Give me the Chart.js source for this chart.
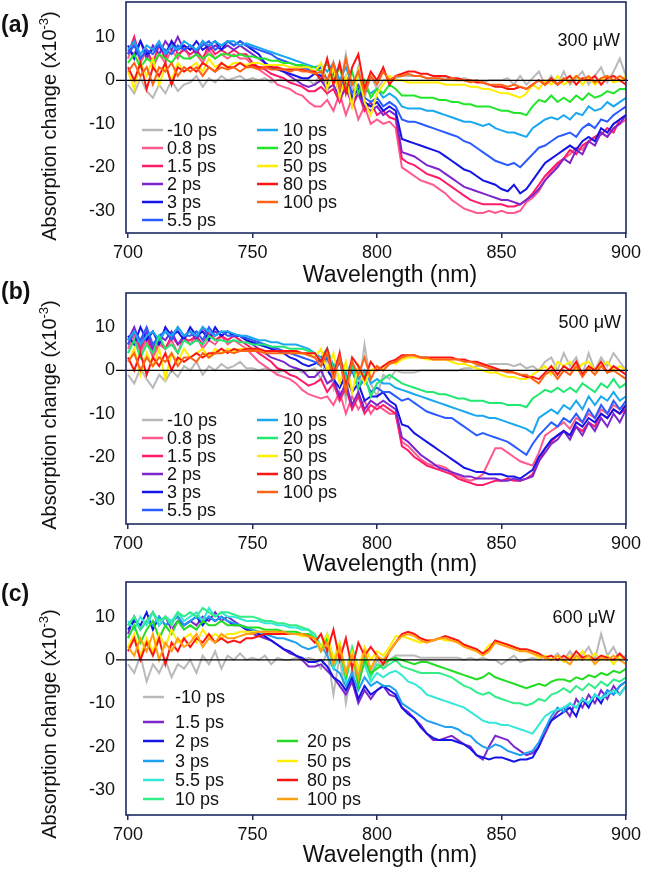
<!DOCTYPE html>
<html><head><meta charset="utf-8">
<script src="https://cdn.jsdelivr.net/npm/chart.js@4.4.1/dist/chart.umd.min.js"></script>
<style>
html,body{margin:0;padding:0;background:#fff;}
#wrap{position:relative;width:650px;height:875px;overflow:hidden;}
canvas{position:absolute;left:0;}
</style></head><body>
<div id="wrap">
<canvas id="ca" width="650" height="295" style="top:0px"></canvas>
<canvas id="cb" width="650" height="300" style="top:278px"></canvas>
<canvas id="cc" width="650" height="305" style="top:570px"></canvas>
</div>
<script>
// ---------- DATA ----------
const wavelengths = [700,702.5,705,707.5,710,712.5,715,717.5,720,722.5,
725,727.5,730,732.5,735,737.5,740,742.5,745,747.5,
750,752.5,755,757.5,760,762.5,765,767.5,770,772.5,
775,777.5,780,782.5,785,787.5,790,792.5,795,797.5,
800,802.5,805,807.5,810,812.5,815,817.5,820,822.5,
825,827.5,830,832.5,835,837.5,840,842.5,845,847.5,
850,852.5,855,857.5,860,862.5,865,867.5,870,872.5,
875,877.5,880,882.5,885,887.5,890,892.5,895,897.5,900];
const xTickValues = [700,750,800,850,900];
const yTickValues = [-30,-20,-10,0,10];

// Panel (a) 300 uW
const labelsAB = ["-10 ps","0.8 ps","1.5 ps","2 ps","3 ps","5.5 ps","10 ps","20 ps","50 ps","80 ps","100 ps"];
const a_m10 = [-1,-3,0.5,-2.5,-4,-1,-3,0,-2.5,-1,
-0.5,1,-1.5,0.5,-0.5,1,0,0.5,1,0,
0.5,0,0.5,-0.5,0,0.5,-0.5,0,0.5,0,
-1,2,-3,4,-2,6,-3,3,-4,1,
-2,0,0.5,0.5,1,1,1,1,0.5,0.5,
0.5,0.5,0,0,0.5,0,0,-0.5,0,0,
0,0.5,-1,1,-1,0.5,2,-1,1,-1,
2,-1,0.5,2,-1,1,3,-0.5,2,5,1];
const a_08 = [5,9,4,7,3,6,4,7,5,8,
5,6,4,7,5,6,5,6,5,5,
3.5,2.5,1.5,0.5,-1,-1.5,-2,-3,-3.5,-5,
-6,-6,-4.5,-7,-3,-8,-4,-9,-6,-10,
-9,-10,-9.5,-11,-20,-21,-22,-23,-23.5,-24,
-25,-26,-27.5,-28.5,-29.5,-30,-30.5,-30.5,-30,-30.5,
-30,-30.5,-30.5,-30,-28,-27,-25.5,-23,-21,-19.5,
-18,-17,-15.5,-16,-14,-13,-12,-13,-11,-10,-9];
const a_15 = [6,10,5,7,4,8,5,9,6,7,
6,7,5,8,6,7,6,7,6,6,
4,3,2.5,1.5,1,0.5,-0.5,-1,-1.5,-2.5,
-2.5,-1.5,-3,-2,-5,-1,-6,-3,-7,-5,
-8,-7,-8.5,-9,-18,-19,-19.5,-20.5,-21.5,-22,
-22.5,-23.5,-24.5,-25.5,-26.5,-27.5,-28,-28.5,-28.5,-28.5,
-28.5,-29,-29,-28.5,-27.5,-26,-24,-22,-20.5,-19,
-18,-16,-17,-15,-14,-13,-12.5,-11,-12,-9,-8];
const a_2 = [7,6,9,5,8,6,9,7,10,7,
8,6,9,7,8,7,8,7,8,7,
6,5,4,3,2.5,2,1,0,-1,-1.5,
-1,0,-2,-1,-4,-2,-5,-3,-6,-7,
-6,-8,-7,-8,-16.5,-17,-17.5,-18.5,-19.5,-20,
-20.5,-21.5,-22.5,-23.5,-24.5,-25,-25.5,-26,-26.5,-27,
-27.5,-27.5,-28,-28.5,-27.5,-26.5,-25,-23,-21.5,-20,
-18,-19,-16,-17,-14,-15,-12,-13,-11,-10,-8];
const a_3 = [8,5,9,6,7,8,6,9,7,8,
7,9,7,8,9,7,9,8,9,8,
7,6,4,3,2.5,2,1.5,1,0.5,0.5,
1.5,1,-1,2,-3,0,-4,-2,-5,-6,
-5,-7,-6,-7,-13.5,-14,-14.5,-15,-15.5,-16,
-16.5,-17.5,-18.5,-19.5,-20.5,-21,-22,-23,-23.5,-24,
-25,-25.5,-24,-26,-25,-23,-21,-19,-18,-17,
-16,-15,-16,-14,-13,-14,-11,-12,-10,-9,-8];
const a_55 = [6,8,5,7,6,8,7,6,8,7,
8,7,8,9,7,8,9,8,9,8,
7.5,7,6.5,6,5,4.5,4,3.5,3,2.5,
2,3,0,2,-2,1,-3,-1,-4,-5,
-4,-6,-5,-6,-9,-9.5,-9.5,-10,-10.5,-11,
-11.5,-12,-12.5,-13,-14,-14.5,-15.5,-16.5,-17.5,-18.5,
-19,-19.5,-19,-20,-18.5,-17,-15.5,-15,-14,-13,
-12.5,-12,-13,-11,-10,-11,-9,-9.5,-8,-7,-6];
const a_10 = [7,9,6,8,7,9,6,8,7,9,
8,7,9,8,9,8,9,9,8,8.5,
8,7.5,7,6.5,6,5.5,5,4.5,4,3.5,
3,3.5,2,4,0,3,-1,1,-2,-3,
-2,-4,-3,-4,-6,-6.5,-6.5,-6.5,-7,-7,
-7.5,-8,-8.5,-9,-9.5,-9.5,-10,-10.5,-10,-11,
-11.5,-12,-12,-12.5,-13,-11,-10,-9,-8.5,-9,
-8,-9,-7.5,-8,-6,-7,-6.5,-5,-6,-5,-4];
const a_20 = [4,6,3,5,4,6,5,4,6,5,
5,6,5,6,5,6,6,5.5,6,5.5,
5.5,5,5,4.5,4.5,4,4,3.5,3.5,3,
3,2,4,0,3,-2,2,-3,0,-4,
-2,-3,-1,-2,-3.5,-3.5,-3.5,-4,-4,-4,
-4.5,-4.5,-5,-5,-5.5,-5.5,-6,-6,-6,-6.5,
-7,-7,-7.5,-7.5,-8,-6,-4.5,-5,-3.5,-5,
-4,-5,-3.5,-4.5,-3,-4,-3.5,-2.5,-3,-2,-2];
const a_50 = [2,-2,4,1,5,-1,3,0,4,2,
3,4,2,5,3,4,3,4,4,3.5,
4,4,3.5,3.5,3.5,3.5,3,3,3,3,
2,4,-2,3,-4,1,-6,2,-5,-8,
-3,-1,1,0,0,-0.5,-0.5,-0.5,-0.5,-0.5,
-0.5,-1,-1,-1,-1,-1.5,-1.5,-2,-2,-2.5,
-3,-3,-3.5,-4,-3,-1,-2,0,-1,1,
-1,0,1,-1,0.5,-1,0,1,-0.5,0,1];
const a_80 = [3,0,4,-2,3,1,4,-1,3,2,
3,2,4,3,2,4,3,3,4,3,
3.5,3,3,3,3,2.5,2.5,2.5,2.5,2,
2,0,5,-1,4,-3,3,6,-2,2,
0,3,-1,1,1.5,2,2,1.5,1.5,1,
1,1,0.5,0.5,0,0,-0.5,-0.5,-1,-1.5,
-1.5,-2,-2,-1.5,-2,-1,0,-1,0.5,-1,
0,1,-1,0.5,0,1,-1,0.5,1,0,-1];
const a_100 = [2,4,1,3,-1,3,2,4,1,3,
2,3,1,3,2,3,2.5,3,2,3,
3,2.5,3,2.5,2.5,2.5,2,2.5,2,2,
1.5,2,0,4,-2,5,-1,2,-3,1,
-1,2,0,1,1,1.5,1,1,0.5,0.5,
0.5,0,0.5,0,0,-0.5,0,-0.5,-1,-1,
-1,-1.5,-1,-1.5,-2,-1,0,-1,0,-1,
0.5,-0.5,1,0,1,-0.5,0.5,1,0,1,0];

// Panel (b) 500 uW
const b_m10 = [-1,-3,0.5,-2,-4,-1,-2.5,0,-1.5,1,
0,2,-1,1,0,1.5,0.5,1,2,0.5,
0.5,0,0.5,0,-0.5,0,0,0.5,-0.5,0,
0.5,-2,3,-4,4,-7,2,-5,6,-3,
-6,-1,-2,0,-0.5,-0.5,-0.5,0,0,0,
0,0,0,0,0.5,0.5,1,1,1.5,1.5,
1.5,1.5,1,1.5,0.5,1,0,2,3,0,
4,1,3,-1,4,0,3,1,4,2,0];
const b_08 = [5,8,4,7,3,6,5,7,4,8,
6,8,5,7,6,8,6,7,6,5,
3.5,2,1,0,-1,-1.5,-2,-3,-4.5,-5.5,
-6,-6.5,-6,-8,-5,-10,-6,-9,-7,-10,
-8,-9,-10,-10,-16.5,-17.5,-19,-20.5,-21.5,-22,
-22,-22.5,-23.5,-24.5,-25,-25.5,-25,-24,-21,-18,
-18,-19,-20,-21,-21.5,-22,-19,-15,-14,-13,
-12,-13.5,-11,-12,-10,-11,-9,-10,-8,-9,-8];
const b_15 = [6,9,5,8,4,7,5,8,6,7,
7,8,6,9,7,8,7,8,7,6,
5,4,3,2,0.5,0,-1,-1.5,-2.5,-3.5,
-3,-2,-5,-3,-7,-4,-9,-6,-10,-8,
-9,-8,-9,-10,-17.5,-18.5,-20,-21,-22,-22.5,
-23,-23.5,-24,-25,-25.5,-26,-26.5,-26.5,-26,-25.5,
-25.5,-25,-25.5,-25.5,-25,-24,-21,-18,-16.5,-15,
-14,-15,-13,-14,-12,-13,-10,-11,-9,-10,-9];
const b_2 = [7,10,6,9,5,8,7,9,6,8,
9,7,10,8,9,8,9,8,8,7,
6,5,4,3,2.5,2,1,0.5,0,-1.5,
-1.5,0,-3,-2,-6,-3,-8,-5,-9,-7,
-8,-7,-8,-9,-15.5,-16.5,-18,-19.5,-20.5,-21.5,
-22.5,-23,-23.5,-24,-24.5,-24.5,-25,-25,-25,-25,
-25.5,-25.5,-25,-25.5,-25,-24.5,-21,-19,-17,-16,
-14,-16,-13,-15,-12,-14,-11,-13,-10,-12,-9];
const b_3 = [8,6,10,7,9,6,10,8,9,7,
10,8,9,7,10,8,9,8,8,7,
6.5,6,5.5,5,4.5,4,3,2.5,1.5,1,
1.5,2.5,0,-2,-4,-1,-5,-3,-7,-6,
-6,-5,-7,-8,-12.5,-13,-14.5,-15.5,-16.5,-17.5,
-18.5,-19.5,-20.5,-21.5,-22.5,-23,-23.5,-23.5,-24,-24,
-24,-24.5,-24.5,-25,-24,-23,-20,-18,-16,-15,
-14,-15,-12,-13,-11,-12,-10,-11,-9,-10,-8];
const b_55 = [6,9,7,10,6,8,9,7,10,8,
8,9,7,10,8,9,8,8,8,7.5,
7,6.5,6,5.5,5,4.5,4,3.5,3,2.5,
2,1,3,-1,2,-3,0,-4,-2,-5,
-4,-5,-5,-6,-7,-6.5,-7.5,-8.5,-9.5,-10,
-10.5,-11,-11,-12,-13,-14,-15,-14.5,-15,-15.5,
-16,-16.5,-17.5,-18.5,-19.5,-17,-15,-13.5,-12,-13,
-11,-12,-10,-12,-9,-11,-8,-10,-7,-9,-7];
const b_10 = [7,9,6,8,9,7,9,8,10,8,
9,8,10,9,8,9,9,8.5,8,8,
7.5,7,7,6.5,6.5,6,6,6,5.5,5,
4,3,5,1,3,-1,2,-2,0,-3,
-2,-3,-3,-4,-4.5,-5,-5.5,-6,-6.5,-7,
-7.5,-8,-8.5,-9,-9.5,-10,-10.5,-10.5,-11,-11,
-11.5,-12,-12.5,-13,-13.5,-14.5,-11,-10,-9,-10,
-8,-9,-7,-9,-6,-8,-6,-7,-5,-7,-6];
const b_20 = [4,7,3,6,4,8,5,6,4,7,
6,7,6,8,7,7,6.5,7,6.5,6.5,
6,6,6,5.5,5.5,5.5,5,5,5,4.5,
4,2,5,0,3,-2,1,-4,-1,-6,
-3,-2,-1,-2,-3,-3.5,-4,-4.5,-5,-5,
-5.5,-5.5,-6,-6.5,-6.5,-7,-7,-7,-7.5,-7.5,
-7.5,-8,-8,-8,-8.5,-6.5,-5.5,-4.5,-5,-4,
-5,-4,-5,-3,-4,-5,-3,-4,-2,-4,-3];
const b_50 = [2,5,-1,4,1,5,-2,4,2,5,
3,4,5,3,5,4,5,4.5,5,5,
5,4.5,4.5,4.5,4.5,4.5,4.5,4,4,4,
3,5,0,4,-3,2,-5,1,-3,0,
1,0,2,1.5,2.5,3,3,3,2.5,2.5,
2.5,2.5,2,1.5,1.5,1,0.5,0,-0.5,-0.5,
-1,-1.5,-1.5,-2,-2,-1,0,1,-1,2,
1,2,0,1.5,2,0,1,2,0,1,0];
const b_80 = [3,0,4,-1,3,1,4,0,3,2,
3,4,3,4,4,5,4,5,4.5,5,
5,5,4.5,4.5,4.5,4.5,4.5,4.5,4,4,
4,2,5,-1,4,-4,3,1,-2,2,
0,1,2,2.5,3.5,3.5,3.5,3,3,3,
3,3,3,2.5,2.5,2,2,1.5,1,0.5,
0,0,-0.5,-1,-1.5,-1.5,-2,-0.5,1,-1,
1,0,2,-1,1,0,2,-0.5,1,0,-1];
const b_100 = [2,4,0,3,1,3,2,4,1,3,
3,2,4,3,4,4,4.5,4,4.5,4.5,
4.5,4.5,4,4,4,4,4,4,4,3.5,
3,1,4,-2,3,-5,2,-1,3,-2,
1,0,1.5,2,3,3.5,3.5,3,3,2.5,
2.5,2.5,2.5,2.5,2,2,1.5,1,0.5,0,
0,-0.5,-0.5,-1,-1,-2,-3,-1,0,-2,
0,-1,1,-1.5,0.5,-1,1,-0.5,0,-1,-2];

// Panel (c) 600 uW
const labelsC = ["-10 ps","1.5 ps","2 ps","3 ps","5.5 ps","10 ps","20 ps","50 ps","80 ps","100 ps"];
const c_m10 = [-1,-3,1,-5,-1,-3,0,-4,-1,-2,
0,-3,1,-1,2,-2,1,0,1.5,0,
0.5,0,1,-1,0.5,0,0,0.5,0,0.5,
0,-2,2,-8,1,-10,-2,-5,1,-3,
0,-2,0,1,1,1,1,0.5,0.5,0.5,
0.5,0.5,0.5,0.5,0,0.5,0,0.5,0,0,
-1,0,1,-0.5,0,0.5,0,1,0,1.5,
0,2,0,1,3,0,6,1,3,0,1];
const c_15 = [6,10,7,9,11,8,10,7,9,8,
9,8,10,9,11,9,10,9,8,7.5,
6,5.5,5,4.5,3.5,2.5,1.5,1,0,-1.5,
-1.5,-1,-2.5,-4,-6,-8,-5,-10,-7,-9,
-7,-6,-8,-8.5,-11,-12,-13.5,-15,-17,-18.5,
-18.5,-18,-17.5,-18.5,-19.5,-20,-22,-23,-20,-17.5,
-18,-18.5,-20,-21,-22,-21.5,-20,-17,-14,-12,
-11,-13,-9,-11,-8,-10,-7,-9,-6,-8,-6];
const c_2 = [7,9,8,11,7,10,8,9,10,8,
9,10,8,10,9,10,9,8,8,7,
6.5,6,5.5,4.5,3.5,2.5,2,1,0.5,-0.5,
-0.5,0,-1.5,-4,-5,-7,-4,-9,-6,-8,
-7,-6,-7,-8,-11,-12.5,-13.5,-15.5,-17,-18,
-18.5,-18.5,-18.5,-19,-19.5,-20.5,-22,-22.5,-23,-22.5,
-22.5,-23,-23.5,-23,-23,-22.5,-20,-16,-14,-13,
-12,-11,-13,-9,-11,-8,-10,-7,-8,-6,-5];
const c_3 = [8,10,7,9,8,10,8,9,10,8,
9,10,9,10,9,10,9,8.5,8,7.5,
7,6.5,6,5.5,5,5,4.5,4,3,2.5,
3,3.5,1,-2,-3,-6,-3,-7,-4,-6,
-5,-6,-6,-7,-10,-11,-12,-13,-14,-14.5,
-15,-15.5,-15.5,-16,-17,-17.5,-19,-20,-20.5,-19.5,
-20,-21,-21.5,-22,-21.5,-21,-19,-16,-13,-11,
-12,-10,-11,-9,-10,-8,-9,-7,-8,-6,-5];
const c_55 = [9,7,10,8,11,8,10,9,11,9,
10,11,9,12,10,11,10,10,9.5,9,
9,9,8.5,8.5,8,8,7.5,7.5,7,7,
5,2,4,-2,1,-5,2,-4,-1,-5,
-3,-4,-3,-2.5,-3.5,-5,-5.5,-6.5,-8,-8.5,
-9,-9.5,-10,-10.5,-11,-12,-13,-14,-14.5,-14.5,
-15,-15,-15.5,-16,-16.5,-17,-15,-13,-12,-11.5,
-11,-10,-11,-9,-10,-8,-9,-8,-7,-8,-6];
const c_10 = [8,10,7,9,11,9,10,8,11,10,
11,10,12,11,10,11,11,10.5,10,10,
10,9.5,9,9,8.5,8.5,8,8,7.5,7,
6,3,6,0,4,-3,3,-2,1,-4,
-1,-2,-1,0,-1.5,-2,-2.5,-3,-3,-3,
-3,-3.5,-4,-5,-6,-6.5,-7.5,-8,-7.5,-8.5,
-9,-9.5,-10,-10,-10.5,-10,-9,-9.5,-8,-7.5,
-6.5,-7.5,-6,-7,-5.5,-6.5,-5,-6,-4.5,-5,-4];
const c_20 = [5,8,4,7,9,5,8,6,9,7,
8,7,9,8,8,9,8,8,8,7.5,
7.5,7.5,7,7,7,6.5,6.5,6.5,6,6,
5,2,5,-1,3,-4,2,-6,0,-3,
-2,-1,0,0.5,0,-0.5,-1,-0.5,-0.5,-1,
-1.5,-2,-2.5,-3,-3.5,-4,-4.5,-4,-3,-4,
-4.5,-5,-5.5,-6,-6.5,-6,-5.5,-6,-5,-4.5,
-4.5,-5,-4,-4.5,-3.5,-4,-3,-3.5,-2.5,-3,-2];
const c_50 = [3,6,1,5,2,6,3,7,4,5,
6,4,7,5,6,5,6,6,6.5,6.5,
6.5,6.5,6.5,6.5,6.5,6,6,6,5.5,5.5,
5,3,6,0,4,-3,2,-2,3,0,
2,1,3,5.5,5.5,5,4.5,4,4.5,4.5,
5,4.5,4.5,4,3.5,3,2,1.5,3.5,4,
4,3.5,3,2.5,2,1.5,0.5,1,0,1,
-0.5,1,0,2,0,1.5,0,1,-1,1,0];
const c_80 = [2,5,0,4,1,5,-1,4,2,5,
3,5,4,6,4,5,4,4.5,4,5,
5,5.5,6,6,6,6,6,6,6,5.5,
4,6,2,7,0,5,-2,4,1,3,
1,-1,2,4,6,6.5,6,5,4.5,4.5,
5,5.5,5,4.5,3.5,3,2.5,1.5,2.5,4.5,
4,3.5,3,2.5,2.5,2,1.5,0.5,1,0,
1,0,2,0.5,1,0,1,0.5,0,1.5,0];
const c_100 = [3,1,5,2,6,0,4,2,5,3,
4,6,3,5,4,6,5,5,5.5,6,
6,6.5,6.5,6.5,6.5,6.5,6,6,6,5.5,
5,2,4,-1,3,-3,1,-4,2,-2,
1,0,2,4,5.5,6,5.5,4.5,4,4.5,
5,5,4.5,4,3,2.5,2,1,2,4,
3.5,3,2.5,2,2,1.5,1,0.5,0,1,
0,-1,1,0,1,-1,0.5,0,1,0,-1];

// ---------- STYLE / LAYOUT ----------
const FONT = '"Liberation Sans", Arial, Helvetica, sans-serif';
const NAVY = '#1d2b5e';
const colorsAB = ['#b9b9b9','#ff5a8c','#ff1a6a','#7d26cd','#1414e6','#2a5cff','#1aa8f0','#22e62a','#ffee00','#ff1414','#ff6414'];
const colorsB = ['#b9b9b9','#ff5a8c','#ff1a6a','#7d26cd','#1414e6','#2a5cff','#1aa8f0','#20e870','#ffee00','#ff1414','#ff6414'];
const colorsC = ['#b9b9b9','#7d26cd','#1414e6','#1ea0f0','#33e8d8','#33ee88','#22dd22','#ffee00','#ff1414','#ffa010'];

const panels = [
 { id:'ca', T:0, H:295, plotTop:2, plotBottom:233, yMin:-35.1, yMax:18.0,
   labels:labelsAB, colors:colorsAB,
   series:[a_m10,a_08,a_15,a_2,a_3,a_55,a_10,a_20,a_50,a_80,a_100],
   letter:'(a)', letterBase:32, power:'300 \u03bcW', powerX:620, powerBase:46,
   yTitleC:126, xTitleBase:282,
   legX:[142,142,142,142,142,142,257,257,257,257,257], legTX:[167,167,167,167,167,167,283,283,283,283,283],
   legY:[130,148,166,184,202,220,130,148,166,184,202] },
 { id:'cb', T:278, H:300, plotTop:293, plotBottom:524, yMin:-35.5, yMax:17.9,
   labels:labelsAB, colors:colorsB,
   series:[b_m10,b_08,b_15,b_2,b_3,b_55,b_10,b_20,b_50,b_80,b_100],
   letter:'(b)', letterBase:299, power:'500 \u03bcW', powerX:621, powerBase:328,
   yTitleC:415, xTitleBase:571,
   legX:[142,142,142,142,142,142,257,257,257,257,257], legTX:[167,167,167,167,167,167,283,283,283,283,283],
   legY:[420,438,456,474,492,510,420,438,456,474,492] },
 { id:'cc', T:570, H:305, plotTop:582, plotBottom:815, yMin:-35.8, yMax:18.0,
   labels:labelsC, colors:colorsC,
   series:[c_m10,c_15,c_2,c_3,c_55,c_10,c_20,c_50,c_80,c_100],
   letter:'(c)', letterBase:601, power:'600 \u03bcW', powerX:615, powerBase:623,
   yTitleC:724, xTitleBase:862,
   legX:[143,143,143,143,143,143,277,277,277,277], legTX:[175,175,175,175,175,175,307,307,307,307],
   legY:[697,722,741,761,780,799,741,761,780,799] }
];

function makeDecor(P){
  return {
    id:'decor'+P.id,
    afterDraw(chart){
      const ctx = chart.ctx, a = chart.chartArea, ys = chart.scales.y;
      ctx.save();
      const y0 = ys.getPixelForValue(0);
      ctx.strokeStyle = '#000'; ctx.lineWidth = 1.2;
      ctx.beginPath(); ctx.moveTo(a.left-10, y0); ctx.lineTo(a.right+2, y0); ctx.stroke();
      ctx.strokeStyle = NAVY; ctx.lineWidth = 1.6;
      ctx.strokeRect(a.left, a.top, a.right-a.left, a.bottom-a.top);
      ctx.lineWidth = 2.5;
      ctx.font = '18px '+FONT; ctx.fillStyle = '#111'; ctx.textBaseline = 'middle'; ctx.textAlign = 'left';
      P.labels.forEach((lab,i)=>{
        const y = P.legY[i]-P.T;
        ctx.strokeStyle = P.colors[i];
        ctx.beginPath(); ctx.moveTo(P.legX[i], y); ctx.lineTo(P.legX[i]+21, y); ctx.stroke();
        ctx.fillText(lab, P.legTX[i], y+1);
      });
      ctx.textBaseline = 'alphabetic'; ctx.textAlign = 'right';
      ctx.fillText(P.power, P.powerX, P.powerBase-P.T);
      ctx.textAlign = 'left'; ctx.font = 'bold 23px '+FONT;
      ctx.fillText(P.letter, 1, P.letterBase-P.T);
      ctx.textAlign = 'center'; ctx.font = '23px '+FONT;
      ctx.fillText('Wavelength (nm)', 390, P.xTitleBase-P.T);
      ctx.translate(49, P.yTitleC-P.T); ctx.rotate(-Math.PI/2);
      const s1 = 'Absorption change (x10', s2 = '-3', s3 = ')';
      ctx.font = '20px '+FONT; const w1 = ctx.measureText(s1).width, w3 = ctx.measureText(s3).width;
      ctx.font = '13px '+FONT; const w2 = ctx.measureText(s2).width;
      let x0 = -(w1+w2+w3)/2;
      ctx.textAlign = 'left';
      ctx.font = '20px '+FONT; ctx.fillText(s1, x0, 7);
      ctx.font = '13px '+FONT; ctx.fillText(s2, x0+w1, -1);
      ctx.font = '20px '+FONT; ctx.fillText(s3, x0+w1+w2, 7);
      ctx.restore();
    }
  };
}

panels.forEach(P=>{
  const n = P.series.length;
  const datasets = P.series.map((arr,i)=>({
    label: P.labels[i],
    data: wavelengths.map((w,k)=>({x:w, y:arr[k]})),
    borderColor: P.colors[i],
    borderWidth: 2,
    pointRadius: 0,
    fill: false,
    tension: 0,
    order: n - i
  }));
  new Chart(document.getElementById(P.id), {
    type: 'line',
    data: { datasets },
    options: {
      responsive: false, animation: false, events: [],
      layout: { padding: { top: P.plotTop - P.T, right: 24, left: 0, bottom: 0 } },
      plugins: { legend: { display:false }, tooltip: { enabled:false } },
      scales: {
        x: { type:'linear', min:699.2, max:900,
             afterBuildTicks: s => { s.ticks = xTickValues.map(v=>({value:v})); },
             afterFit: s => { s.height = P.H - (P.plotBottom - P.T); s.paddingLeft = 0; s.paddingRight = 0; },
             grid: { display:true, drawOnChartArea:false, drawTicks:true, tickLength:5, color:NAVY, lineWidth:1.5 },
             border: { display:false },
             ticks: { color:'#111', font:{ family:FONT, size:18 }, padding:4, maxRotation:0, autoSkip:false } },
        y: { type:'linear', min:P.yMin, max:P.yMax,
             afterBuildTicks: s => { s.ticks = yTickValues.map(v=>({value:v})); },
             afterFit: s => { s.width = 126; s.paddingTop = 0; s.paddingBottom = 0; },
             grid: { display:false, drawTicks:false },
             border: { display:false },
             ticks: { color:'#111', font:{ family:FONT, size:18 }, padding:11 } }
      }
    },
    plugins: [makeDecor(P)]
  });
});
</script>
</body></html>
